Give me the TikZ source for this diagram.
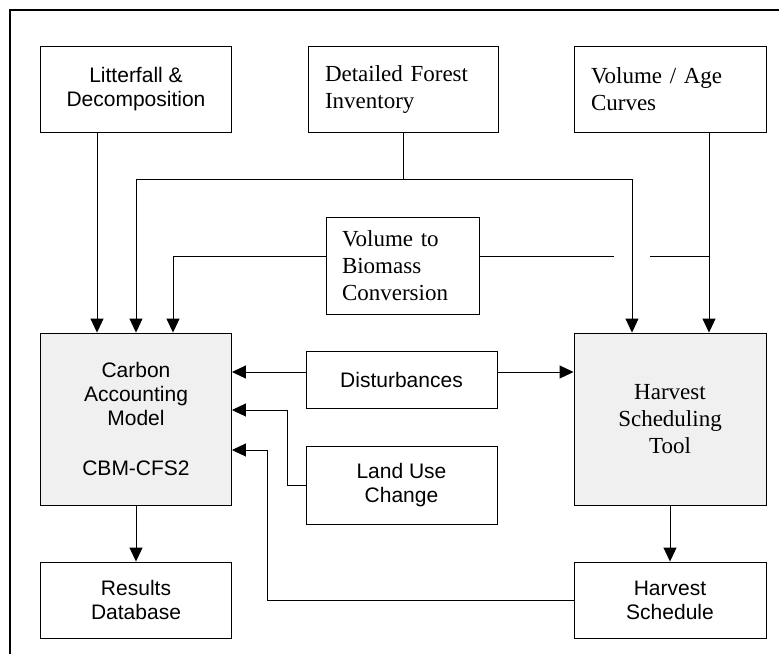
\documentclass[tikz,border=0pt]{standalone}
\usepackage{fontspec}
\newfontfamily\sansfnt{Liberation Sans}
\newfontfamily\seriffnt{Liberation Serif}
\usetikzlibrary{arrows.meta}

\tikzset{every picture/.style={line width=0.9pt}}
\tikzset{
  boxsans/.style={draw, fill=white, inner sep=0pt, align=center,
    font=\sansfnt\fontsize{21}{24}\selectfont},
  boxserif/.style={draw, fill=white, inner ysep=0pt, align=left,
    font=\seriffnt\fontsize{23}{27}\selectfont},
  shaded/.style={fill=black!6},
  arr/.style={-{Triangle[length=14pt,width=13pt]}}
}

\begin{document}
\begin{tikzpicture}[x=1pt,y=1pt,yscale=-1,xscale=1]
\useasboundingbox (0,0) rectangle (779,654);

% Frame
\draw [line width=2pt] (10,654) -- (10,10) -- (779,10);

% Top row
\node [boxsans, minimum width=191pt, minimum height=86pt] (litter) at (136,89) {Litterfall \&\\Decomposition};
\node [boxserif, text width=156pt, inner xsep=17pt, minimum height=86pt] (inventory) at (403,89) {Detailed Forest\\Inventory};
\node [boxserif, text width=158pt, inner xsep=17pt, minimum height=86pt] (volage) at (670,89) {Volume / Age\\Curves};

% Middle
\node [boxserif, text width=121pt, inner xsep=16pt, minimum height=97pt] (biomass) at (402.5,265.5) {Volume to\\Biomass\\Conversion};
\node [boxsans, shaded, minimum width=191pt, minimum height=172pt] (carbon) at (136,419) {Carbon\\Accounting\\Model\\[26pt]CBM-CFS2};
\node [boxserif, shaded, align=center, text width=158pt, inner xsep=17pt, minimum height=172pt] (tool) at (670,419) {Harvest\\Scheduling\\Tool};
\node [boxsans, minimum width=191pt, minimum height=57pt] (disturb) at (401.5,379.5) {Disturbances};
\node [boxsans, minimum width=191pt, minimum height=78pt] (landuse) at (401.5,485) {Land Use\\Change};

% Bottom row
\node [boxsans, minimum width=191pt, minimum height=76pt] (results) at (136,600) {Results\\Database};
\node [boxsans, minimum width=192pt, minimum height=76pt] (schedule) at (670,600) {Harvest\\Schedule};

% Connectors
\draw [arr] ([xshift=-39pt]litter.south) -- ([xshift=-39pt]carbon.north);
\draw [arr] (inventory.south) -- ([yshift=47pt]inventory.south) -| (carbon.north);
\draw [arr] ([yshift=47pt]inventory.south) -| ([xshift=-38pt]tool.north);
\draw [arr] ([yshift=-9.5pt]biomass.west) -| ([xshift=37pt]carbon.north);
\draw ([yshift=-9.5pt]biomass.east) -- ++(135,0);
\draw ([yshift=-9.5pt]biomass.east) ++(171,0) -- ++(59,0);
\draw [arr] ([xshift=39pt]volage.south) -- ([xshift=39pt]tool.north);
\draw [arr] ([yshift=-7.5pt]disturb.west) -- ([yshift=-47pt]carbon.east);
\draw [arr] ([yshift=-7.5pt]disturb.east) -- ([yshift=-47pt]tool.west);
\draw [arr] (landuse.west) -- ++(-18,0) |- ([yshift=-9pt]carbon.east);
\draw [arr] (schedule.west) -- ++(-306,0) |- ([yshift=31pt]carbon.east);
\draw [arr] (carbon.south) -- (results.north);
\draw [arr] (tool.south) -- (schedule.north);

\end{tikzpicture}
\end{document}
